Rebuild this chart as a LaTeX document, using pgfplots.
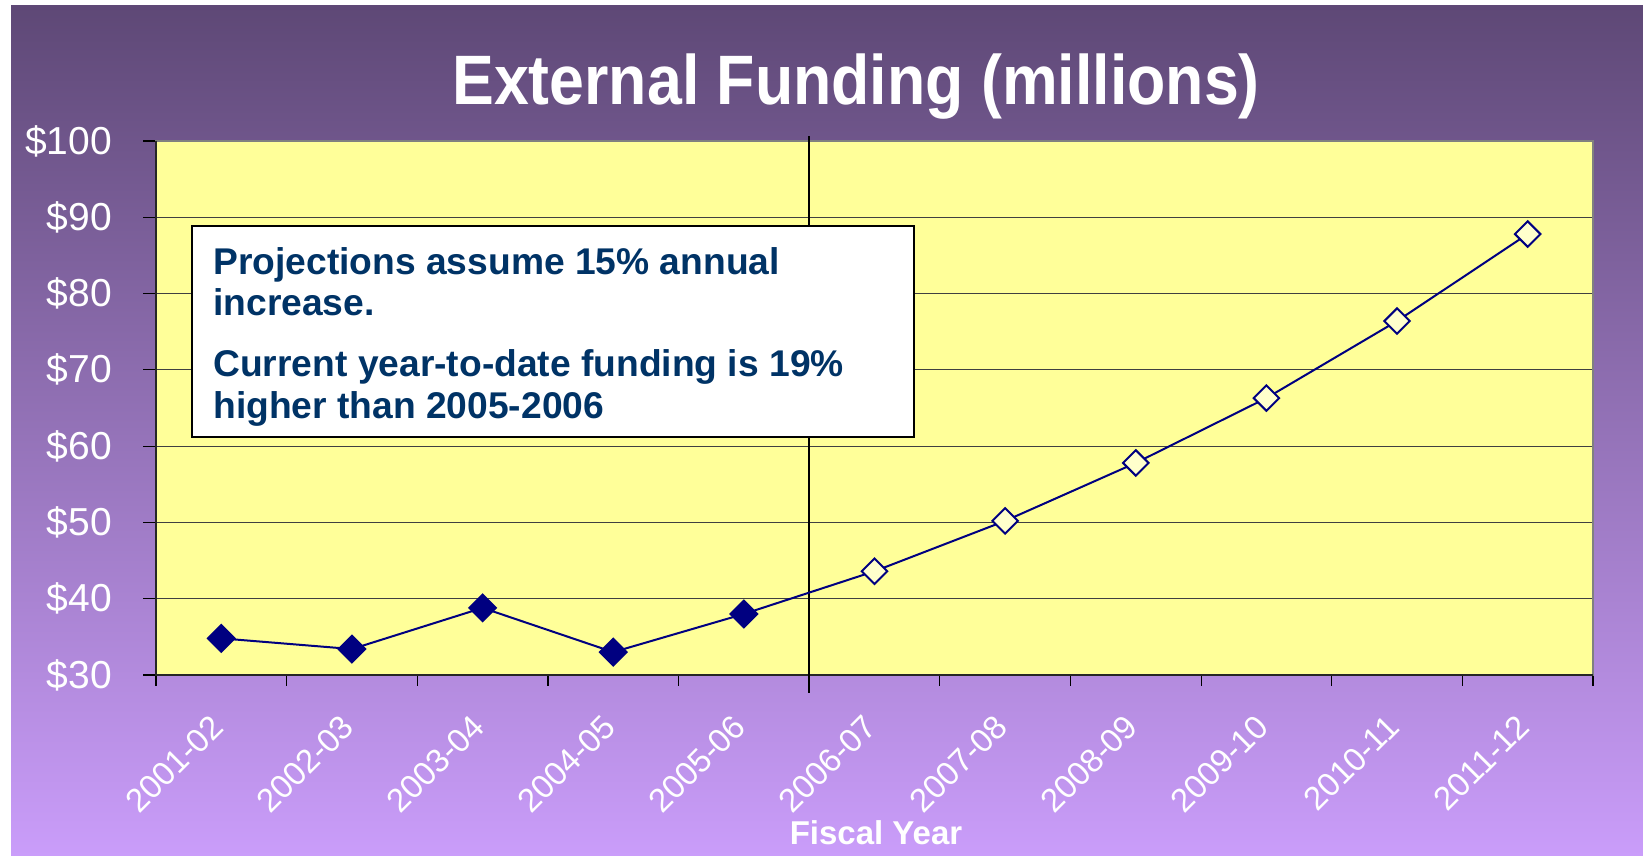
\documentclass[border=0pt]{standalone}
\usepackage{pgfplots}
\pgfplotsset{compat=1.18}
\usepackage{fontspec}
\setmainfont{Liberation Sans}
\definecolor{bgtop}{HTML}{5E4876}
\definecolor{bgmid}{HTML}{A079C6}
\definecolor{bgbot}{HTML}{CA9DFA}
\definecolor{plotyellow}{HTML}{FFFF99}
\definecolor{navy}{HTML}{000080}
\definecolor{boxtext}{HTML}{003366}
\definecolor{openfill}{HTML}{FFFFCC}
\begin{document}
\begin{tikzpicture}
\fill[white] (0,0) rectangle (821.5pt,428pt);
\shade[top color=bgtop, middle color=bgmid, bottom color=bgbot] (5.5pt,0) rectangle (821.5pt,425pt);
\begin{axis}[
  at={(78pt,90.5pt)}, anchor=south west,
  scale only axis, width=718.5pt, height=267pt,
  xmin=0.5, xmax=11.5, ymin=30, ymax=100,
  axis background/.style={fill=plotyellow},
  axis line style={draw=black!50, line width=0.7pt},
  xtick={1,...,11},
  xticklabels={2001-02,2002-03,2003-04,2004-05,2005-06,2006-07,2007-08,2008-09,2009-10,2010-11,2011-12},
  major x tick style={draw=none},
  minor xtick={0.5,1.5,...,11.5},
  ytick={30,40,...,100},
  yticklabels={\$30,\$40,\$50,\$60,\$70,\$80,\$90,\$100},
  tick align=outside,
  xtick pos=left, ytick pos=left,
  major tick length=6.5pt, minor tick length=5.5pt,
  tick style={black, line width=0.6pt},
  ymajorgrids, grid style={draw=black!75, line width=0.5pt},
  xticklabel style={font=\fontsize{16.5}{19}\selectfont, text=white, xshift=0.5pt, yshift=-14pt, rotate=45, anchor=east},
  yticklabel style={font=\fontsize{19.5}{23}\selectfont, text=white, xshift=-12pt},
  /pgf/number format/assume math mode=true,
  clip=false,
]
\draw[black!85, line width=0.8pt] (rel axis cs:0,1) -- (rel axis cs:0,0) -- (rel axis cs:1,0);
\draw[black, line width=1pt] (axis cs:5.5,100.65) -- (axis cs:5.5,27.64);
\addplot[navy, line width=1pt, mark=square*, mark size=4.7pt, mark options={rotate=45, fill=navy, draw=navy}]
  coordinates {(1,34.8) (2,33.4) (3,38.8) (4,33.0) (5,38.0)};
\addplot[navy, line width=1pt, mark=square*, mark size=4.5pt, mark options={rotate=45, fill=openfill, draw=navy, line width=1pt}]
  coordinates {(5,38.0) (6,43.6) (7,50.2) (8,57.8) (9,66.3) (10,76.4) (11,87.8)};
\addplot[navy, mark=square*, mark size=4.7pt, mark options={rotate=45, fill=navy, draw=navy}, only marks]
  coordinates {(5,38.0)};
\end{axis}
\node[anchor=base, text=white, font=\fontsize{35}{42}\selectfont\bfseries, xscale=0.895] at (428pt,375.5pt) {External Funding (millions)};
\node[anchor=base, text=white, font=\fontsize{16.5}{20}\selectfont\bfseries] at (438pt,5.5pt) {Fiscal Year};
\draw[black, line width=1pt, fill=white] (96pt,209.5pt) rectangle (457pt,315pt);
\begin{scope}[every node/.style={anchor=base west, inner sep=0pt, text=boxtext, font=\fontsize{18.6}{22}\selectfont\bfseries}]
\node at (106.5pt,290.75pt) {Projections assume 15\% annual};
\node at (106.5pt,270pt) {increase.};
\node at (106.5pt,239.5pt) {Current year-to-date funding is 19\%};
\node at (106.5pt,218.5pt) {higher than 2005-2006};
\end{scope}
\pgfresetboundingbox
\useasboundingbox (0,0) rectangle (821.5pt,428pt);
\end{tikzpicture}
\end{document}
